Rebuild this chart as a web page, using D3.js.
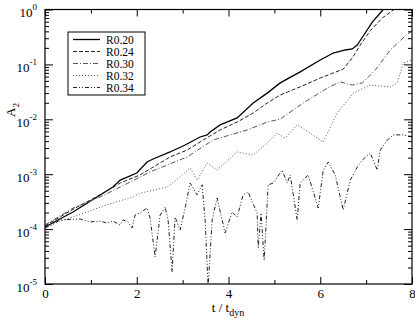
<!DOCTYPE html>
<html>
<head>
<meta charset="utf-8">
<script src="https://cdn.jsdelivr.net/npm/d3@7"></script>
<style>
    body { margin: 0; background: #fff; }
    svg { display: block; font-family: "Liberation Serif", "DejaVu Serif", serif; }
    .axis path.domain { display: none; }
    .axis line { stroke: #000; stroke-width: 1; }
    .curve { fill: none; }
</style>
</head>
<body>
<svg id="chart" width="415" height="320"></svg>
<script>
// Data
const seriesNames = ['R0.20', 'R0.24', 'R0.30', 'R0.32', 'R0.34'];

const tR020 = [0, 0.61, 1.48, 1.64, 2.0, 2.225, 2.356, 2.727, 3.054, 3.381, 3.534, 3.6, 3.818, 4.188, 4.538, 4.843, 5.127, 5.563, 6.0, 6.283, 6.545, 6.697, 6.806, 6.937, 7.134, 7.374, 7.5];
const aR020 = [1.09e-4, 2.05e-4, 5.85e-4, 7.8e-4, 1.05e-3, 1.67e-3, 1.89e-3, 2.54e-3, 3.4e-3, 4.76e-3, 5.2e-3, 5.87e-3, 7.9e-3, 1.06e-2, 1.98e-2, 3.0e-2, 4.6e-2, 7.3e-2, 0.12, 0.161, 0.183, 0.191, 0.225, 0.329, 0.59, 1.0, 1.3];

const tR024 = [0, 0.61, 1.2, 1.64, 2.07, 2.727, 3.098, 3.447, 3.818, 4.188, 4.538, 4.843, 5.127, 5.563, 6.0, 6.501, 6.697, 6.872, 7.09, 7.352, 7.592, 7.7];
const aR024 = [1.14e-4, 2.3e-4, 4.2e-4, 6.9e-4, 9.7e-4, 2.06e-3, 2.75e-3, 4.2e-3, 6.4e-3, 8.9e-3, 1.3e-2, 1.98e-2, 2.77e-2, 3.9e-2, 5.65e-2, 8.2e-2, 0.131, 0.225, 0.41, 0.70, 0.98, 1.2];

const tR030 = [0, 0.61, 1.2, 1.64, 2.29, 3.098, 3.665, 4.407, 4.843, 5.127, 5.628, 6.152, 6.435, 6.697, 6.915, 7.199, 7.526, 7.853, 8.0];
const aR030 = [1.19e-4, 2.4e-4, 3.85e-4, 5.85e-4, 1.1e-3, 2.06e-3, 4.2e-3, 6.4e-3, 8.9e-3, 1.01e-2, 1.98e-2, 3.7e-2, 4.8e-2, 4.2e-2, 4.6e-2, 7.9e-2, 0.183, 0.33, 0.41];

const tR032 = [0, 0.61, 1.2, 1.48, 1.92, 2.07, 2.661, 2.945, 3.163, 3.316, 3.534, 3.752, 4.188, 4.538, 4.843, 5.061, 5.235, 5.497, 5.781, 6.065, 6.37, 6.719, 7.09, 7.526, 7.679, 7.81, 8.0];
const aR032 = [1.14e-4, 1.66e-4, 2.5e-4, 3.0e-4, 3.85e-4, 4.5e-4, 5.85e-4, 8.9e-4, 1.3e-3, 7.8e-4, 1.6e-3, 1.19e-3, 2.54e-3, 2.24e-3, 3.7e-3, 5.6e-3, 4.56e-3, 7.9e-3, 5.6e-3, 3.86e-3, 1.3e-2, 3.0e-2, 4.2e-2, 3.9e-2, 4.6e-2, 0.106, 0.12];

const tR034 = [0, 0.15, 0.327, 0.764, 0.982, 1.2, 1.353, 1.483, 1.636, 1.702, 1.811, 1.898, 1.963, 2.072, 2.225, 2.291, 2.4, 2.509, 2.618, 2.683, 2.771, 2.836, 2.945, 3.054, 3.163, 3.316, 3.425, 3.49, 3.556, 3.643, 3.752, 3.927, 4.079, 4.188, 4.319, 4.428, 4.625, 4.647, 4.71, 4.777, 4.865, 4.974, 5.17, 5.279, 5.345, 5.497, 5.563, 5.737, 5.956, 6.065, 6.174, 6.326, 6.501, 6.654, 6.806, 6.915, 7.09, 7.243, 7.308, 7.461, 7.592, 7.81, 8.0];
const aR034 = [1.05e-4, 1.19e-4, 1.47e-4, 1.53e-4, 1.35e-4, 1.4e-4, 1.29e-4, 1.4e-4, 1.19e-4, 1.47e-4, 1.35e-4, 1.05e-4, 1.8e-4, 1.96e-4, 2.42e-4, 1.59e-4, 3.1e-5, 1.8e-4, 2.53e-4, 1.47e-4, 1.66e-5, 1.66e-4, 9.6e-5, 2.42e-4, 6.9e-4, 4.2e-4, 6.4e-4, 1.47e-4, 9e-6, 1.47e-4, 3.7e-4, 8.5e-5, 2.05e-4, 1.66e-4, 4.2e-4, 4.7e-4, 1.96e-4, 4.5e-5, 1.96e-4, 2.7e-5, 6.4e-4, 6.9e-4, 1.19e-3, 6.9e-4, 9.7e-4, 1.47e-4, 6.9e-4, 9.7e-4, 2.42e-4, 1.19e-3, 1.67e-3, 9.7e-4, 2.23e-4, 7.8e-4, 1.35e-3, 1.8e-3, 2.43e-3, 1.19e-3, 2.75e-3, 4.2e-3, 5.2e-3, 5.2e-3, 4.76e-3];

// Tick values
const xMajor = [0, 2, 4, 6, 8];
const xMinor = [1, 3, 5, 7];
const yMajor = [1e-5, 1e-4, 1e-3, 1e-2, 1e-1, 1];
const yExponents = ['-5', '-4', '-3', '-2', '-1', '0'];

document.addEventListener('DOMContentLoaded', () => {
    const svg = d3.select('#chart');

    // Plot box in pixels
    const left = 45, right = 412, top = 9.5, bottom = 284;

    const x = d3.scaleLinear().domain([0, 8]).range([left, right]);
    const y = d3.scaleLog().domain([1e-5, 1]).range([bottom, top]);

    const yMinor = y.ticks().filter(v => !yMajor.some(m => Math.abs(m - v) / m < 1e-6));

    const series = [
        { name: seriesNames[0], t: tR020, a: aR020, dash: null, color: '#000', width: 1.3 },
        { name: seriesNames[1], t: tR024, a: aR024, dash: '4,2', color: '#222', width: 1 },
        { name: seriesNames[2], t: tR030, a: aR030, dash: '5,2,1,2', color: '#555', width: 1 },
        { name: seriesNames[3], t: tR032, a: aR032, dash: '1,2', color: '#555', width: 1 },
        { name: seriesNames[4], t: tR034, a: aR034, dash: '4,2,1,2,1,2', color: '#222', width: 1 }
    ];

    svg.append('clipPath').attr('id', 'plot-clip')
        .append('rect')
        .attr('x', left).attr('y', top)
        .attr('width', right - left).attr('height', bottom - top);

    // Curves
    const line = d3.line()
        .x(d => x(d[0]))
        .y(d => y(d[1]));

    const curves = svg.append('g').attr('clip-path', 'url(#plot-clip)');
    series.forEach(s => {
        curves.append('path')
            .datum(s.t.map((t, i) => [t, s.a[i]]))
            .attr('class', 'curve')
            .attr('d', line)
            .attr('stroke', s.color)
            .attr('stroke-width', s.width)
            .attr('stroke-dasharray', s.dash);
    });

    // Axes, all ticks pointing inward
    svg.append('g').attr('class', 'axis')
        .attr('transform', `translate(0,${bottom})`)
        .call(d3.axisBottom(x).tickValues(xMajor).tickSize(-7).tickPadding(5).tickFormat(d3.format('d')))
        .call(g => g.selectAll('text')
            .style('font-family', '"Liberation Serif", serif')
            .style('font-size', '13px')
            .attr('fill', '#000'));

    svg.append('g').attr('class', 'axis')
        .attr('transform', `translate(0,${bottom})`)
        .call(d3.axisBottom(x).tickValues(xMinor).tickSize(-4).tickFormat(''));

    svg.append('g').attr('class', 'axis')
        .attr('transform', `translate(0,${top})`)
        .call(d3.axisTop(x).tickValues(xMajor).tickSize(-7).tickFormat(''));

    svg.append('g').attr('class', 'axis')
        .attr('transform', `translate(0,${top})`)
        .call(d3.axisTop(x).tickValues(xMinor).tickSize(-4).tickFormat(''));

    const yLeft = svg.append('g').attr('class', 'axis')
        .attr('transform', `translate(${left},0)`)
        .call(d3.axisLeft(y).tickValues(yMajor).tickSize(-8).tickFormat(''));

    svg.append('g').attr('class', 'axis')
        .attr('transform', `translate(${left},0)`)
        .call(d3.axisLeft(y).tickValues(yMinor).tickSize(-4).tickFormat(''));

    svg.append('g').attr('class', 'axis')
        .attr('transform', `translate(${right},0)`)
        .call(d3.axisRight(y).tickValues(yMajor).tickSize(-8).tickFormat(''));

    svg.append('g').attr('class', 'axis')
        .attr('transform', `translate(${right},0)`)
        .call(d3.axisRight(y).tickValues(yMinor).tickSize(-4).tickFormat(''));

    // Power-of-ten labels
    yLeft.selectAll('.tick').each(function(d, i) {
        const label = d3.select(this).append('text')
            .attr('x', -8)
            .attr('y', 7)
            .attr('text-anchor', 'end')
            .attr('fill', '#000')
            .style('font-family', '"Liberation Serif", serif')
            .style('font-size', '13px');
        label.append('tspan').text('10');
        label.append('tspan')
            .attr('dy', -7)
            .style('font-size', '9px')
            .text(yExponents[i]);
    });

    // Frame
    svg.append('rect')
        .attr('x', left).attr('y', top)
        .attr('width', right - left).attr('height', bottom - top)
        .attr('fill', 'none')
        .attr('stroke', '#000')
        .attr('stroke-width', 1.2);

    // Axis titles
    const xTitle = svg.append('text')
        .attr('x', 228)
        .attr('y', 312)
        .attr('text-anchor', 'middle')
        .style('font-size', '13px');
    xTitle.append('tspan').text('t / t');
    xTitle.append('tspan').attr('dy', 4).style('font-size', '10px').text('dyn');

    const yTitle = svg.append('text')
        .attr('transform', 'translate(15,110) rotate(-90)')
        .attr('text-anchor', 'middle')
        .style('font-size', '13px');
    yTitle.append('tspan').text('A');
    yTitle.append('tspan').attr('dy', 4).style('font-size', '9px').text('2');

    // Legend
    const legend = svg.append('g');
    legend.append('rect')
        .attr('x', 68).attr('y', 32)
        .attr('width', 77).attr('height', 63)
        .attr('fill', '#fff')
        .attr('stroke', '#000')
        .attr('stroke-width', 1);

    series.forEach((s, i) => {
        const ly = 39.5 + i * 12;
        legend.append('line')
            .attr('x1', 73).attr('x2', 100)
            .attr('y1', ly).attr('y2', ly)
            .attr('stroke', s.color)
            .attr('stroke-width', s.width)
            .attr('stroke-dasharray', s.dash);
        legend.append('text')
            .attr('x', 106)
            .attr('y', ly + 4)
            .style('font-size', '11.5px')
            .text(s.name);
    });
});
</script>
</body>
</html>
